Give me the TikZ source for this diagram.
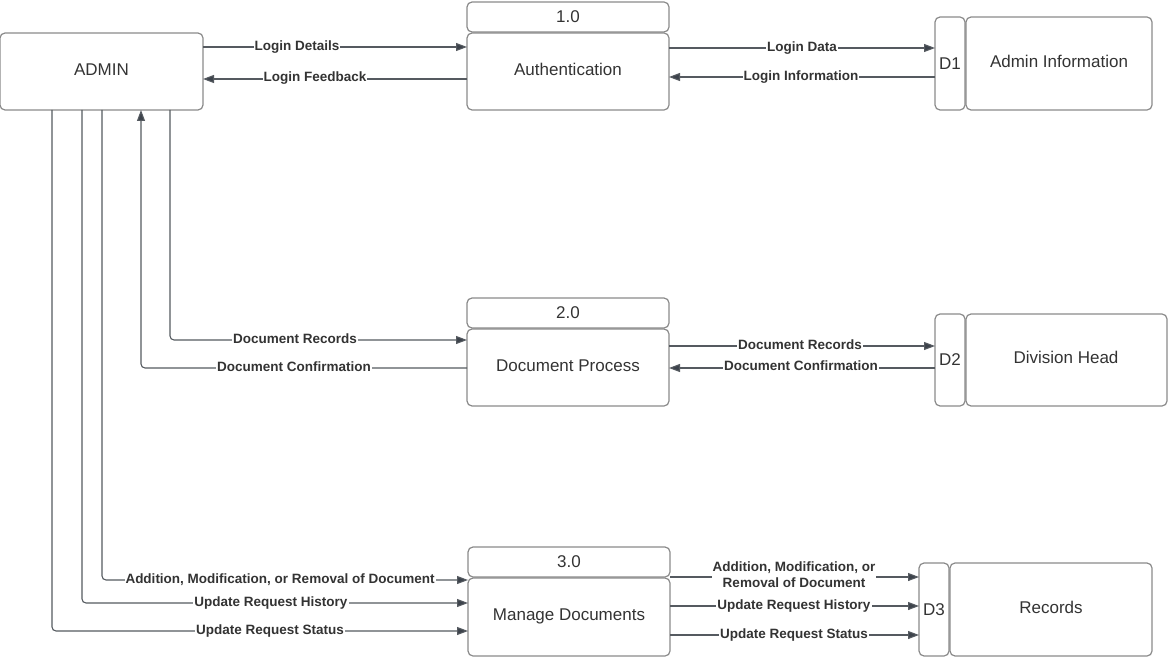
\documentclass[tikz,border=0pt]{standalone}
\usepackage{fontspec}
\setmainfont{Liberation Sans}
\usetikzlibrary{arrows.meta}
\definecolor{boxline}{HTML}{8A8A8A}
\definecolor{flowline}{HTML}{555A60}
\definecolor{tipcol}{HTML}{3C424B}
\definecolor{txt}{HTML}{333333}
\begin{document}
\begin{tikzpicture}[x=1pt,y=-1pt,
	box/.style={draw=boxline, line width=1.2pt, rounded corners=5pt, inner sep=0pt, outer sep=0pt, text=txt, font=\fontsize{17}{20}\selectfont},
	mainbox/.style={box, minimum width=202pt, text height=12.5pt, text depth=5pt},
	flow/.style={draw=flowline, line width=1.1pt, rounded corners=4pt, -{Triangle[length=11pt,width=8pt,fill=tipcol]}},
	lbl/.style={fill=white, inner sep=1pt, text=txt, font=\bfseries\fontsize{13.5}{16}\selectfont}]
	\useasboundingbox (0,0) rectangle (1169,658);
	% external entity
	\node[box, minimum width=203pt, minimum height=77pt, text height=12.5pt, text depth=5pt] (admin) at (101.5,71.5) {ADMIN};
	% processes
	\node[box, minimum width=202pt, minimum height=30pt] (authno) at (568,17) {1.0};
	\node[mainbox, minimum height=77pt] (auth) at (568,71.5) {Authentication};
	\node[box, minimum width=202pt, minimum height=30pt] (docpno) at (568,313) {2.0};
	\node[mainbox, minimum height=77pt] (docp) at (568,367.5) {Document Process};
	\node[box, minimum width=202pt, minimum height=30pt] (manageno) at (569,562) {3.0};
	\node[mainbox, minimum height=78pt] (manage) at (569,617) {Manage Documents};
	% data stores
	\node[box, minimum width=30pt, minimum height=93pt] (d1id) at (950,63.5) {D1};
	\node[box, minimum width=186pt, minimum height=93pt, anchor=west] (d1) at (966,63.5) {};
	\node[text=txt, font=\fontsize{17}{20}\selectfont] at (1059,61) {Admin Information};
	\node[box, minimum width=30pt, minimum height=92pt] (d2id) at (950,360) {D2};
	\node[box, minimum width=201pt, minimum height=92pt, anchor=west] (d2) at (966,360) {};
	\node[text=txt, font=\fontsize{17}{20}\selectfont] at (1066,357) {Division Head};
	\node[box, minimum width=30pt, minimum height=93pt] (d3id) at (934,609.5) {D3};
	\node[box, minimum width=202pt, minimum height=93pt, anchor=west] (d3) at (950,609.5) {};
	\node[text=txt, font=\fontsize{17}{20}\selectfont] at (1051,607) {Records};

	% admin <-> authentication
	\draw[flow] (admin.east |- 0,47) -- (auth.west |- 0,47);
	\node[lbl] at (297,47) {Login Details};
	\draw[flow] (auth.west |- 0,79) -- (admin.east |- 0,79);
	\node[lbl] at (315,78) {Login Feedback};
	% authentication <-> D1
	\draw[flow] (auth.east |- 0,48) -- (d1id.west |- 0,48);
	\node[lbl] at (802,48) {Login Data};
	\draw[flow] (d1id.west |- 0,77) -- (auth.east |- 0,77);
	\node[lbl] at (801,77) {Login Information};

	% admin <-> document process
	\draw[flow] (admin.south -| 170,0) |- (docp.west |- 0,340);
	\node[lbl] at (295,339) {Document Records};
	\draw[flow] (docp.west |- 0,368) -| (admin.south -| 141,0);
	\node[lbl] at (294,367) {Document Confirmation};
	% document process <-> D2
	\draw[flow] (docp.east |- 0,346) -- (d2id.west |- 0,346);
	\node[lbl] at (800,345) {Document Records};
	\draw[flow] (d2id.west |- 0,368) -- (docp.east |- 0,368);
	\node[lbl] at (801,366) {Document Confirmation};

	% admin -> manage documents
	\draw[flow] (admin.south -| 102,0) |- (manage.west |- 0,580);
	\node[lbl] at (280,580) {Addition, Modification, or Removal of Document};
	\draw[flow] (admin.south -| 82,0) |- (manage.west |- 0,603);
	\node[lbl] at (271,603) {Update Request History};
	\draw[flow] (admin.south -| 52,0) |- (manage.west |- 0,631);
	\node[lbl] at (270,631) {Update Request Status};
	% manage documents -> D3
	\draw[flow] (manage.east |- 0,577) -- (d3id.west |- 0,577);
	\node[lbl, align=center] at (794,575) {Addition, Modification, or\\Removal of Document};
	\draw[flow] (manage.east |- 0,606) -- (d3id.west |- 0,606);
	\node[lbl] at (794,606) {Update Request History};
	\draw[flow] (manage.east |- 0,635) -- (d3id.west |- 0,635);
	\node[lbl] at (794,635) {Update Request Status};
\end{tikzpicture}
\end{document}
